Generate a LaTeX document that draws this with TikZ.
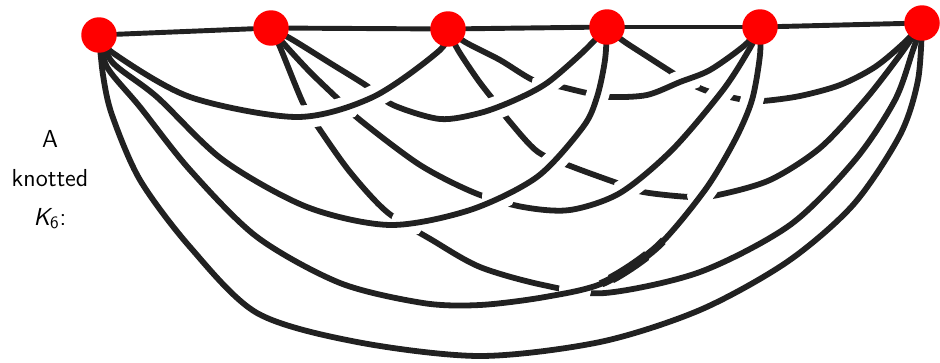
\documentclass[tikz,border=0pt]{standalone}
\usepackage{tikz}
\pgfdeclarelayer{bg}
\pgfsetlayers{bg,main}
\tikzset{
 vtx/.style={circle, fill=red, draw=none, inner sep=0pt, minimum size=20.2pt},
 kline/.style={draw=black!87, line width=3.3pt, line cap=round, line join=round},
 kspine/.style={draw=black!87, line width=2.8pt, line cap=round},
 khalo/.style={draw=white, line width=13pt, line cap=round},
 klabel/.style={font=\sffamily\fontsize{14}{22}\selectfont, align=center, inner sep=0pt},
}
\newcommand\KnotEdge[1]{\draw[kline] plot[smooth] coordinates {#1};}
\newcommand\KnotOver[2]{\begin{scope}\clip #2;\draw[khalo] plot[smooth] coordinates {#1};\end{scope}\draw[kline] plot[smooth] coordinates {#1};}
\begin{document}
\begin{tikzpicture}[x=0.02cm,y=-0.02cm]
\useasboundingbox (0,0) rectangle (940,362);
\node[vtx] (v1) at (99,35) {};
\node[vtx] (v2) at (271,28) {};
\node[vtx] (v3) at (448,29) {};
\node[vtx] (v4) at (607,27) {};
\node[vtx] (v5) at (760,27) {};
\node[vtx] (v6) at (922,23) {};
\node[klabel] (lbl) at (50,180) {A\\knotted\\{\slshape K}\textsubscript{6}:};
\begin{pgfonlayer}{bg}
% v4-v6 (under everything it meets)
\KnotEdge{(v4.center) (622,40) (648,57) (673,73) (693,85) (710,92) (730,97) (745,100) (763,101) (800,96) (840,85) (875,67) (905,42) (v6.center)}
% v3-v6
\KnotEdge{(v3.center) (458,50) (478,80) (495,102) (510,122) (538,152) (573,167) (617,183) (643,192) (690,197) (718,195) (770,180) (820,148) (865,100) (900,55) (v6.center)}
% v2-v6
\KnotEdge{(v2.center) (280,47) (303,103) (318,127) (350,172) (387,212) (432,240) (480,267) (543,285) (605,293) (700,272) (790,225) (855,160) (895,100) (913,50) (v6.center)}
% v3-v5 over v4-v6
\KnotOver{(v3.center) (465,42) (500,60) (533,80) (562,87) (587,93) (610,97) (647,95) (680,82) (710,70) (745,45) (v5.center)}{(685,80) circle[radius=16]}
% v2-v5 over v3-v6, v4-v6
\KnotOver{(v2.center) (285,45) (310,72) (337,98) (360,120) (420,165) (475,193) (523,207) (570,210) (620,193) (672,150) (723,90) (750,48) (v5.center)}{(630,187) circle[radius=16] (720,95) circle[radius=16]}
% v2-v4 over v3-v6, v3-v5
\KnotOver{(v2.center) (293,40) (330,63) (367,86) (393,105) (440,119) (480,113) (515,100) (547,83) (583,52) (v4.center)}{(500,106) circle[radius=16] (548,83) circle[radius=16]}
% v1-v5 over v2-v6, v3-v6, v4-v6
\KnotOver{(v1.center) (107,67) (140,107) (190,170) (257,237) (340,283) (423,303) (480,305) (545,297) (603,283) (657,247) (705,190) (735,140) (752,100) (760,55) (v5.center)}{(575,290) circle[radius=16] (703,194) circle[radius=16] (752,100) circle[radius=16]}
\begin{scope}
\clip (632,262) circle[radius=38];
\draw[kline, line width=4.4pt] plot[smooth] coordinates {(v1.center) (107,67) (140,107) (190,170) (257,237) (340,283) (423,303) (480,305) (545,297) (603,283) (657,247) (705,190) (735,140) (752,100) (760,55) (v5.center)};
\end{scope}
\begin{scope}
\clip (628,266) circle[radius=22];
\draw[kline, line width=5.6pt] plot[smooth] coordinates {(v1.center) (107,67) (140,107) (190,170) (257,237) (340,283) (423,303) (480,305) (545,297) (603,283) (657,247) (705,190) (735,140) (752,100) (760,55) (v5.center)};
\end{scope}
% v1-v4 over v2-v6, v2-v5, v3-v6, v3-v5
\KnotOver{(v1.center) (113,63) (157,97) (223,160) (307,207) (390,225) (470,210) (537,177) (583,127) (597,97) (605,60) (v4.center)}{(407,223) circle[radius=16] (498,197) circle[radius=16] (555,158) circle[radius=16] (598,95) circle[radius=16]}
% v1-v3 over v2-v6, v2-v5, v2-v4
\KnotOver{(v1.center) (113,53) (190,97) (297,117) (373,97) (440,50) (v3.center)}{(311,117) circle[radius=16] (344,105) circle[radius=16] (378,94) circle[radius=16]}
% v1-v6
\KnotEdge{(v1.center) (103,75) (112,115) (140,180) (190,247) (257,313) (357,342) (480,356) (600,342) (700,310) (787,262) (853,205) (900,135) (918,80) (v6.center)}
% spine
\draw[kspine] (v1) -- (v2);
\draw[kspine] (v2) -- (v3);
\draw[kspine] (v3) -- (v4);
\draw[kspine] (v4) -- (v5);
\draw[kspine] (v5) -- (v6);
\end{pgfonlayer}
\end{tikzpicture}
\end{document}
